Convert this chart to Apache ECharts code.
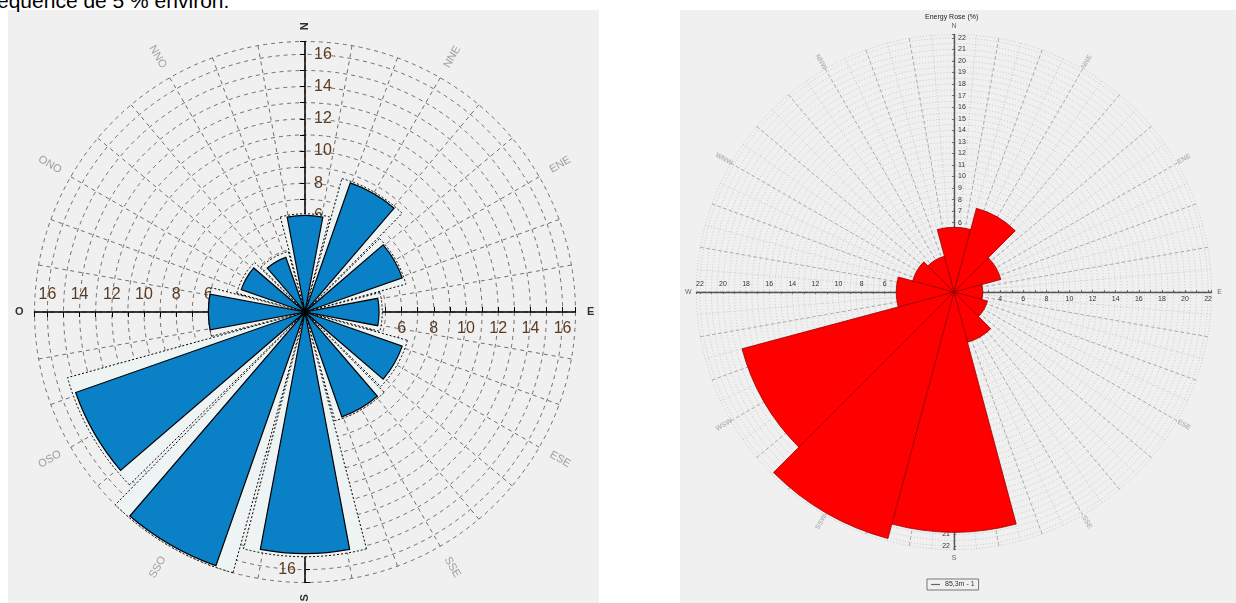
<!DOCTYPE html>
<html><head><meta charset="utf-8">
<script src="https://cdn.jsdelivr.net/npm/echarts@6/dist/echarts.min.js"></script>
<style>
html,body{margin:0;padding:0;background:#fff;overflow:hidden;}
#wrap{position:relative;width:1236px;height:603px;}
.panel{position:absolute;background:#f0f0f0;}
#c{position:absolute;left:0;top:0;width:1236px;height:603px;}
#txt{position:absolute;left:-3px;top:-10px;font:21px "Liberation Sans",Arial,sans-serif;line-height:21px;color:#000;white-space:nowrap;}
</style>
</head><body>
<div id="wrap">
<div class="panel" style="left:8px;top:10px;width:591px;height:593px;"></div>
<div class="panel" style="left:680px;top:10px;width:556px;height:593px;"></div>
<div id="txt">équence de 5 % environ.</div>
<div id="c"></div>
</div>
<script>
// ---------- data ----------
const dirsFR = ['N','NNE','ENE','E','ESE','SSE','S','SSO','OSO','O','ONO','NNO'];
const blueValues  = [6.0, 8.5, 6.4, 4.6, 6.4, 6.9, 15.0, 16.7, 15.1, 6.0, 4.2, 3.6];
const whiteValues = [6.1, 8.6, 6.5, 4.8, 6.6, 7.0, 15.2, 16.8, 15.3, 6.0, 4.4, 3.9];
const dirsEN = ['N','NNE','ENE','E','ESE','SSE','S','SSW','WSW','W','WNW','NNW'];
const energyValues = [5.6, 7.5, 4.2, 2.5, 3.0, 4.5, 20.8, 22.1, 19.0, 5.0, 3.7, 3.2];
const leftTickLabels = [2, 4, 6, 8, 10, 12, 14, 16];
const rightTickLabels = [1,2,3,4,5,6,7,8,9,10,11,12,13,14,15,16,17,18,19,20,21,22];
const rightTickLabelsEW = [2,4,6,8,10,12,14,16,18,20,22];
const legendName = '85,3m - 1';
const roseTitle = 'Energy Rose (%)';

// ---------- layout ----------
const L = {c:[305,312], unit:16.1, max:16.8};
const R = {c:[954,292], unit:11.55, max:22.3};

const polars=[], angleAxes=[], radiusAxes=[], series=[];
function addPolar(center, rPx, aa, ra){
  const i = polars.length;
  polars.push({center:center, radius:rPx});
  angleAxes.push(Object.assign({polarIndex:i}, aa));
  radiusAxes.push(Object.assign({polarIndex:i}, ra));
  return i;
}
const hiddenAxis = {axisLine:{show:false}, axisTick:{show:false}, axisLabel:{show:false}, splitLine:{show:false}};
// label placement on the clockwise side of each half-axis (N: right, E: below, S: left, W: above)
const sideAlign = {90:{align:'left', verticalAlign:'middle'}, 0:{align:'center', verticalAlign:'top'},
                   270:{align:'right', verticalAlign:'middle'}, 180:{align:'center', verticalAlign:'bottom'}};

// ===== LEFT CHART =====
addPolar(L.c, L.max*L.unit,
  Object.assign({}, hiddenAxis, {type:'value', min:0, max:360, interval:10, startAngle:90, clockwise:true,
    splitLine:{show:true, lineStyle:{color:'#6e6e6e', width:1, type:[4,4]}}}),
  Object.assign({}, hiddenAxis, {type:'value', min:0, max:L.max, interval:1,
    splitLine:{show:true, lineStyle:{color:'#6e6e6e', width:1, type:[4,4]}}}));
[90, 0, 270, 180].forEach(function(s){
  addPolar(L.c, L.max*L.unit,
    {type:'value', min:0, max:360, startAngle:s, show:false},
    {type:'value', min:0, max:L.max, interval:1,
      axisLine:{show:true, lineStyle:{color:'#000', width:1.5}},
      axisTick:{show:true, length:5, lineStyle:{color:'#000', width:1}},
      axisLabel:Object.assign({show:true, margin:-9, fontSize:16, fontFamily:'Liberation Sans', color:'#5a3c22',
        formatter:function(v){ return leftTickLabels.indexOf(v)>=0 ? String(v) : ''; }}, sideAlign[s]),
      splitLine:{show:false}});
  addPolar(L.c, L.max*L.unit,
    {type:'value', min:0, max:360, startAngle:s, show:false},
    {type:'value', min:0, max:L.max, interval:1,
      axisLine:{show:false},
      axisTick:{show:true, inside:true, length:5, lineStyle:{color:'#000', width:1}},
      axisLabel:{show:false}, splitLine:{show:false}});
});
const pWhite = addPolar(L.c, L.max*L.unit,
  {type:'category', data:dirsFR, startAngle:105, clockwise:true, show:false},
  {type:'value', min:0, max:L.max, show:false});
const pBlue = addPolar(L.c, L.max*L.unit,
  {type:'category', data:dirsFR, startAngle:105, clockwise:true, show:false},
  {type:'value', min:0, max:L.max, show:false});
series.push({type:'bar', coordinateSystem:'polar', polarIndex:pWhite, data:whiteValues, barWidth:'97%',
  itemStyle:{color:'#eef3f3', borderColor:'#000', borderWidth:1, borderType:[2,2]}, z:3});
series.push({type:'bar', coordinateSystem:'polar', polarIndex:pBlue, data:blueValues, barWidth:'71%',
  itemStyle:{color:'#0a80c6', borderColor:'#000', borderWidth:1.2}, z:4});
const pLblL = addPolar(L.c, 20*L.unit,
  {type:'value', min:0, max:360, startAngle:90, clockwise:true, show:false},
  {type:'value', min:0, max:20, show:false});
function radialRot(i){ let a = 90 - i*30; while(a>90) a-=180; while(a<=-90) a+=180; return a; }
series.push({type:'scatter', coordinateSystem:'polar', polarIndex:pLblL, symbolSize:0, silent:true, clip:false, z:6,
  data: dirsFR.map(function(d,i){
    const card = (i%3===0);
    return {name:d, value:[card?17.75:18.3, i*30],
      label:{show:true, position:'inside', formatter:'{b}', rotate:radialRot(i),
        color: card?'#000':'#8a8a8a', fontSize:11, fontWeight: card?'bold':'normal', fontFamily:'Liberation Sans'}};
  })});

// ===== RIGHT CHART =====
addPolar(R.c, R.max*R.unit,
  Object.assign({}, hiddenAxis, {type:'value', min:0, max:360, interval:5, startAngle:90, clockwise:true,
    splitLine:{show:true, lineStyle:{color:'#b9b9b9', width:0.7, type:[1,2]}}}),
  Object.assign({}, hiddenAxis, {type:'value', min:0, max:R.max, interval:0.5,
    splitLine:{show:true, lineStyle:{color:'#b9b9b9', width:0.7, type:[1,2]}}}));
addPolar(R.c, R.max*R.unit,
  Object.assign({}, hiddenAxis, {type:'value', min:0, max:360, interval:10, startAngle:90, clockwise:true,
    splitLine:{show:true, lineStyle:{color:'#9a9a9a', width:0.8, type:[3,3]}}}),
  Object.assign({}, hiddenAxis, {type:'value', min:0, max:R.max, interval:1}));
[[90,rightTickLabels],[0,rightTickLabelsEW],[270,rightTickLabels],[180,rightTickLabelsEW]].forEach(function(p){
  const labs = p[1];
  addPolar(R.c, R.max*R.unit,
    {type:'value', min:0, max:360, startAngle:p[0], show:false},
    {type:'value', min:0, max:R.max, interval:1,
      axisLine:{show:true, lineStyle:{color:'#555', width:1.4}},
      axisTick:{show:true, length:2, lineStyle:{color:'#555', width:0.8}},
      axisLabel:Object.assign({show:true, margin:-4, fontSize:7, fontFamily:'Liberation Sans', color:'#333',
        formatter:function(v){ return labs.indexOf(v)>=0 ? String(v) : ''; }}, sideAlign[p[0]]),
      splitLine:{show:false}});
});
const pRed = addPolar(R.c, R.max*R.unit,
  {type:'category', data:dirsEN, startAngle:105, clockwise:true, show:false},
  {type:'value', min:0, max:R.max, show:false});
series.push({type:'bar', name:legendName, coordinateSystem:'polar', polarIndex:pRed, data:energyValues, barWidth:'100%',
  itemStyle:{color:'#ff0000', borderColor:'#9a0000', borderWidth:0.8}, z:4});
const pLblR = addPolar(R.c, 25*R.unit,
  {type:'value', min:0, max:360, startAngle:90, clockwise:true, show:false},
  {type:'value', min:0, max:25, show:false});
series.push({type:'scatter', coordinateSystem:'polar', polarIndex:pLblR, symbolSize:0, silent:true, clip:false, z:6,
  data: dirsEN.map(function(d,i){
    const card = (i%3===0);
    return {name:d, value:[23.0, i*30],
      label:{show:true, position:'inside', formatter:'{b}', rotate: card?0:radialRot(i),
        color: card?'#444':'#aaaaaa', fontSize:7, fontWeight: card?'normal':'bold', fontFamily:'Liberation Sans'}};
  })});

const chart = echarts.init(document.getElementById('c'), null, {renderer:'canvas', width:1236, height:603});
chart.setOption({
  animation:false,
  backgroundColor:'transparent',
  polar:polars, angleAxis:angleAxes, radiusAxis:radiusAxes, series:series,
  legend:{data:[{name:legendName, icon:'rect', itemStyle:{color:'#666', borderWidth:0}}], left:927, top:579, itemWidth:9, itemHeight:1.2, itemGap:3,
    borderColor:'#777', borderWidth:1, padding:[2,4],
    textStyle:{fontSize:7, color:'#333', fontFamily:'Liberation Sans'}, selectedMode:false},
  graphic:[{type:'text', left:955-30, top:14, style:{text:roseTitle, fontSize:7, fill:'#222', fontFamily:'Liberation Sans', width:60, align:'center'}}]
});
</script>
</body></html>
